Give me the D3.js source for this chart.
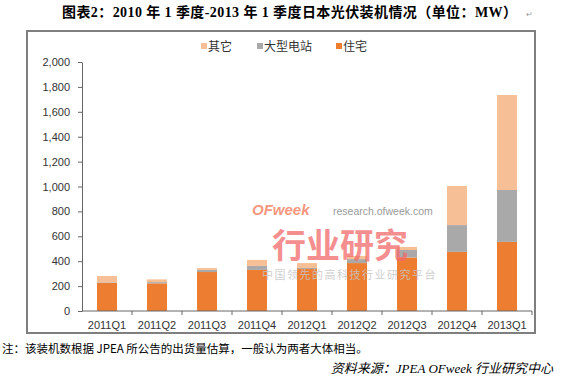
<!DOCTYPE html>
<html>
<head>
<meta charset="utf-8">
<script src="https://cdn.jsdelivr.net/npm/d3@7"></script>
<style>
  body { margin: 0; background: #fff; }
  svg { display: block; }
</style>
</head>
<body>
<svg></svg>
<script>
// quarters + stacked installs (MW)
const QUARTERS = ["2011Q1", "2011Q2", "2011Q3", "2011Q4", "2012Q1", "2012Q2", "2012Q3", "2012Q4", "2013Q1"];
const RESIDENTIAL = [225, 222, 313, 330, 337, 385, 430, 475, 555];
const LARGE = [5, 10, 17, 32, 8, 32, 60, 215, 417];
const OTHER = [51, 22, 15, 48, 40, 25, 25, 314, 763];
const SERIES_NAMES = ["住宅", "大型电站", "其它"];
const Y_TICKS = [0, 200, 400, 600, 800, 1000, 1200, 1400, 1600, 1800, 2000];

const WIDTH = 562;
const HEIGHT = 378;
const COLORS = {"住宅": "#ED7D31", "大型电站": "#A9A9A9", "其它": "#F7BF96"};

const svg = d3.select('svg')
  .attr('width', WIDTH)
  .attr('height', HEIGHT);

// title
svg.append('text')
  .attr('x', 62)
  .attr('y', 17)
  .attr('textLength', 455)
  .attr('lengthAdjust', 'spacing')
  .style('font-family', '"Liberation Serif", "Noto Sans CJK SC", serif')
  .style('font-weight', 'bold')
  .style('font-size', '14px')
  .attr('fill', '#000')
  .text('图表2：2010 年 1 季度-2013 年 1 季度日本光伏装机情况（单位：MW）');
svg.append('text')
  .attr('x', 526).attr('y', 17)
  .style('font-size', '8px').attr('fill', '#999')
  .text('↵');

// chart frame
svg.append('rect')
  .attr('x', 27).attr('y', 31)
  .attr('width', 508).attr('height', 302)
  .attr('fill', 'none')
  .attr('stroke', '#7f7f7f')
  .attr('stroke-width', 2);

const xScale = d3.scaleBand()
  .domain(QUARTERS)
  .range([82, 532])
  .paddingInner(0.6)
  .paddingOuter(0.3);
const yScale = d3.scaleLinear().domain([0, 2000]).range([311, 62]);

// stack data
const rows = QUARTERS.map((q, i) => ({q: q, "住宅": RESIDENTIAL[i], "大型电站": LARGE[i], "其它": OTHER[i]}));
const stacked = d3.stack().keys(SERIES_NAMES)(rows);

const chart = svg.append('g');

chart.selectAll('.layer')
  .data(stacked)
  .enter()
  .append('g')
  .attr('fill', d => COLORS[d.key])
  .selectAll('rect')
  .data(d => d)
  .enter()
  .append('rect')
  .attr('x', d => xScale(d.data.q))
  .attr('width', xScale.bandwidth())
  .attr('y', d => yScale(d[1]))
  .attr('height', d => yScale(d[0]) - yScale(d[1]));

// y axis
const yAxis = chart.append('g')
  .attr('transform', 'translate(82,0)')
  .call(d3.axisLeft(yScale).tickValues(Y_TICKS).tickSize(4).tickSizeOuter(0).tickPadding(8)
    .tickFormat(d3.format(',')));
yAxis.selectAll('text')
  .style('font-family', 'Arial, "Liberation Sans", sans-serif')
  .style('font-size', '11px')
  .attr('fill', '#333');
yAxis.selectAll('line, path').attr('stroke', '#666');

// x axis with ticks between categories
const step = xScale.step();
const xAxis = chart.append('g');
xAxis.append('line')
  .attr('x1', 82).attr('x2', 532)
  .attr('y1', yScale(0)).attr('y2', yScale(0))
  .attr('stroke', '#666');
xAxis.selectAll('.xtick')
  .data(QUARTERS.slice(1).concat(['end']))
  .enter()
  .append('line')
  .attr('x1', (d, i) => xScale(QUARTERS[i]) + xScale.bandwidth() / 2 + step / 2)
  .attr('x2', (d, i) => xScale(QUARTERS[i]) + xScale.bandwidth() / 2 + step / 2)
  .attr('y1', yScale(0)).attr('y2', yScale(0) + 4)
  .attr('stroke', '#666');
xAxis.selectAll('.xlabel')
  .data(QUARTERS)
  .enter()
  .append('text')
  .attr('x', d => xScale(d) + xScale.bandwidth() / 2)
  .attr('y', yScale(0) + 18)
  .attr('text-anchor', 'middle')
  .style('font-family', 'Arial, "Liberation Sans", sans-serif')
  .style('font-size', '11px')
  .attr('fill', '#333')
  .text(d => d);

// legend (reverse order like original)
const LEGEND_X = [201, 257, 336];
const legend = svg.append('g');
SERIES_NAMES.slice().reverse().forEach((name, i) => {
  legend.append('rect')
    .attr('x', LEGEND_X[i]).attr('y', 43)
    .attr('width', 6).attr('height', 6)
    .attr('fill', COLORS[name]);
  legend.append('text')
    .attr('x', LEGEND_X[i] + 7).attr('y', 51)
    .style('font-family', '"Noto Sans CJK SC", sans-serif')
    .style('font-size', '12px')
    .attr('fill', '#333')
    .text(name);
});

// watermark
const wm = svg.append('g');
wm.append('text')
  .attr('x', 252).attr('y', 215)
  .style('font-family', '"Liberation Sans", Arial, sans-serif')
  .style('font-weight', 'bold').style('font-style', 'italic')
  .style('font-size', '15px')
  .attr('fill', '#F4866B').attr('opacity', 0.85)
  .text('OFweek');
wm.append('text')
  .attr('x', 333).attr('y', 215)
  .style('font-family', '"Liberation Sans", Arial, sans-serif')
  .style('font-size', '10.5px')
  .attr('fill', '#9a9a9a')
  .text('research.ofweek.com');
wm.append('text')
  .attr('x', 272).attr('y', 258)
  .style('font-family', '"Noto Sans CJK SC", sans-serif')
  .style('font-weight', 'bold')
  .style('font-size', '34px')
  .attr('fill', '#F26A6A').attr('opacity', 0.75)
  .text('行业研究');
wm.append('text')
  .attr('x', 262).attr('y', 279)
  .style('font-family', '"Noto Sans CJK SC", serif')
  .style('font-size', '11px')
  .attr('fill', '#c8c8c8').attr('opacity', 0.85)
  .attr('letter-spacing', '1.5px')
  .text('中国领先的高科技行业研究平台');

// notes below
svg.append('text')
  .attr('x', 2).attr('y', 353)
  .style('font-family', '"Noto Sans CJK SC", sans-serif')
  .style('font-size', '11.5px')
  .attr('fill', '#000')
  .text('注：该装机数根据 JPEA 所公告的出货量估算，一般认为两者大体相当。');
svg.append('text')
  .attr('x', 553).attr('y', 373)
  .attr('text-anchor', 'end')
  .style('font-family', '"Liberation Serif", "Noto Sans CJK SC", serif')
  .style('font-style', 'italic')
  .style('font-size', '13px')
  .attr('fill', '#000')
  .text('资料来源：JPEA OFweek 行业研究中心');
</script>
</body>
</html>
